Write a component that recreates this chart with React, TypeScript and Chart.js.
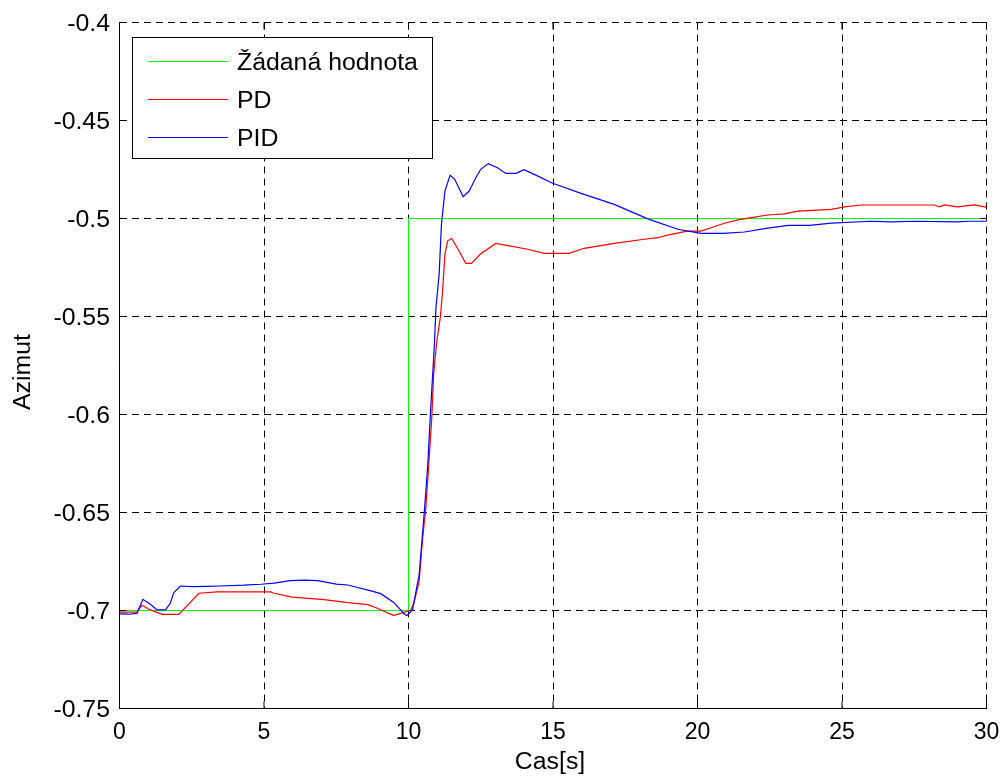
import React, { useEffect, useRef } from "react";
import { Chart, registerables } from "chart.js";

Chart.register(...registerables);

// ---- Data ----
const setpointTime = [0, 10, 10, 30];
const setpointValues = [-0.7, -0.7, -0.5, -0.5];

const pdTime = [0, 0.6, 0.78, 1.07, 1.48, 2.05, 2.75, 3.38, 5.23, 5.35, 5.98, 7.08, 7.9, 8.6, 8.9, 9.39, 9.5, 9.9, 10.08, 10.19, 10.37, 10.48, 10.6, 10.71, 10.8, 10.87, 10.98, 11.1, 11.18, 11.26, 11.35, 11.49, 11.75, 11.98, 12.18, 12.5, 13.02, 13.49, 14.12, 14.7, 15.56, 16.08, 17.12, 18.16, 18.62, 19.08, 19.66, 20.12, 20.47, 20.93, 21.4, 21.86, 22.43, 23.01, 23.48, 24.63, 25.09, 25.67, 28.2, 28.37, 28.55, 29.0, 29.58, 29.93, 30];
const pdValues = [-0.7008, -0.7008, -0.6973, -0.6997, -0.702, -0.702, -0.6912, -0.6905, -0.6905, -0.6912, -0.6932, -0.6945, -0.696, -0.697, -0.6987, -0.702, -0.7025, -0.7007, -0.6998, -0.696, -0.685, -0.6646, -0.6476, -0.6238, -0.6033, -0.5795, -0.5625, -0.5506, -0.537, -0.5183, -0.5115, -0.5101, -0.5166, -0.5229, -0.5229, -0.518, -0.5127, -0.514, -0.5157, -0.5178, -0.5178, -0.5152, -0.5127, -0.5106, -0.5098, -0.5081, -0.5064, -0.5064, -0.5047, -0.5024, -0.5007, -0.4996, -0.4982, -0.4976, -0.4962, -0.4953, -0.4941, -0.4931, -0.4931, -0.4941, -0.4931, -0.4941, -0.4931, -0.4941, -0.4941];

const pidTime = [0, 0.3, 0.6, 0.81, 1.07, 1.3, 1.59, 1.75, 1.88, 2.11, 2.5, 3.04, 3.5, 4.3, 4.9, 5.35, 5.9, 6.4, 6.86, 7.5, 7.9, 8.7, 9.04, 9.5, 9.84, 9.94, 10.14, 10.37, 10.54, 10.66, 10.77, 10.89, 10.95, 11.06, 11.14, 11.26, 11.44, 11.6, 11.89, 12.1, 12.33, 12.5, 12.76, 13.08, 13.37, 13.72, 14.0, 14.35, 14.99, 15.97, 17.12, 18.28, 19.32, 20.12, 20.9, 21.62, 22.32, 23.13, 23.88, 24.63, 26.0, 26.7, 27.5, 29.0, 29.36, 30];
const pidValues = [-0.7017, -0.7019, -0.7015, -0.6943, -0.6968, -0.6997, -0.6997, -0.6965, -0.6909, -0.6875, -0.6878, -0.6877, -0.6875, -0.6871, -0.6866, -0.686, -0.6848, -0.6845, -0.6848, -0.6865, -0.687, -0.69, -0.6914, -0.696, -0.7015, -0.7027, -0.6997, -0.6816, -0.651, -0.6272, -0.5965, -0.566, -0.5455, -0.5285, -0.503, -0.486, -0.478, -0.48, -0.4889, -0.486, -0.4792, -0.4749, -0.472, -0.4741, -0.477, -0.477, -0.4751, -0.4775, -0.482, -0.4872, -0.4928, -0.5002, -0.5055, -0.5076, -0.5076, -0.5069, -0.5052, -0.5035, -0.5035, -0.5024, -0.5014, -0.5017, -0.5014, -0.5017, -0.5014, -0.5014];

const seriesLabels = ["Žádaná hodnota", "PD", "PID"];
const seriesColors = ["#00ff00", "#ff0000", "#0000ff"];
const xTitle = "Cas[s]";
const yTitle = "Azimut";
const xMin = 0, xMax = 30, xStep = 5;
const yMin = -0.75, yMax = -0.4, yStep = 0.05;

const FONT = '"Liberation Sans", Arial, Helvetica, sans-serif';
const FONT_PX = 23;
const STRETCH = 1.08;

const toPoints = (t: number[], v: number[]) => t.map((x, i) => ({ x, y: v[i] }));
const fmt = (v: number) => String(Number(Number(v).toFixed(2)));

function drawText(ctx: any, text: string, x: number, y: number, align: string, sx: number, rot = 0) {
  ctx.save();
  ctx.translate(x, y);
  if (rot) ctx.rotate(rot);
  ctx.scale(sx, 1);
  ctx.textAlign = align;
  ctx.textBaseline = "alphabetic";
  ctx.fillText(text, 0, 0);
  ctx.restore();
}

const matlabPlugin = {
  id: "matlabDecor",
  afterDraw(chart: any) {
    const { ctx, chartArea } = chart;
    const { left, right, top, bottom } = chartArea;
    const xs = chart.scales.x;
    const ys = chart.scales.y;
    ctx.save();
    ctx.strokeStyle = "#000";
    ctx.lineWidth = 1;
    ctx.setLineDash([]);
    // solid left & bottom axes
    ctx.beginPath();
    ctx.moveTo(left, top);
    ctx.lineTo(left, bottom);
    ctx.lineTo(right, bottom);
    ctx.stroke();
    // inward ticks
    const tl = 7;
    ctx.beginPath();
    xs.ticks.forEach((t: any) => {
      const px = xs.getPixelForValue(t.value);
      ctx.moveTo(px, bottom);
      ctx.lineTo(px, bottom - tl);
      ctx.moveTo(px, top);
      ctx.lineTo(px, top + tl);
    });
    ys.ticks.forEach((t: any) => {
      const py = ys.getPixelForValue(t.value);
      ctx.moveTo(left, py);
      ctx.lineTo(left + tl, py);
      ctx.moveTo(right, py);
      ctx.lineTo(right - tl, py);
    });
    ctx.stroke();

    ctx.fillStyle = "#000";
    ctx.font = `${FONT_PX}px ${FONT}`;
    // tick labels
    xs.ticks.forEach((t: any) => {
      drawText(ctx, fmt(t.value), xs.getPixelForValue(t.value), 738.5, "center", 1);
    });
    ys.ticks.forEach((t: any) => {
      drawText(ctx, fmt(t.value), 110, ys.getPixelForValue(t.value) + 8.5, "right", STRETCH);
    });
    // axis titles
    drawText(ctx, xTitle, 550, 768.5, "center", STRETCH);
    drawText(ctx, yTitle, 30, 410, "left", STRETCH, -Math.PI / 2);

    // legend
    const bx = 132.5, by = 37.5, bw = 300, bh = 121;
    ctx.fillStyle = "#fff";
    ctx.fillRect(bx, by, bw, bh);
    ctx.strokeStyle = "#000";
    ctx.strokeRect(bx, by, bw, bh);
    const rows = [61, 99, 137];
    seriesLabels.forEach((lab, i) => {
      ctx.strokeStyle = seriesColors[i];
      ctx.beginPath();
      ctx.moveTo(148, rows[i] + 0.5);
      ctx.lineTo(228, rows[i] + 0.5);
      ctx.stroke();
      ctx.fillStyle = "#000";
      drawText(ctx, lab, 237, rows[i] + 9, "left", STRETCH);
    });
    ctx.restore();
  },
};

export default function App() {
  const canvasRef = useRef<HTMLCanvasElement | null>(null);

  useEffect(() => {
    if (!canvasRef.current) return;
    const chart = new Chart(canvasRef.current, {
      type: "line",
      data: {
        datasets: [
          {
            label: seriesLabels[0],
            data: toPoints(setpointTime, setpointValues),
            borderColor: seriesColors[0],
            borderWidth: 1,
            pointRadius: 0,
            tension: 0,
            order: 3,
          },
          {
            label: seriesLabels[1],
            data: toPoints(pdTime, pdValues),
            borderColor: seriesColors[1],
            borderWidth: 1.2,
            pointRadius: 0,
            tension: 0,
            order: 2,
          },
          {
            label: seriesLabels[2],
            data: toPoints(pidTime, pidValues),
            borderColor: seriesColors[2],
            borderWidth: 1.2,
            pointRadius: 0,
            tension: 0,
            order: 1,
          },
        ],
      },
      options: {
        animation: false,
        responsive: false,
        devicePixelRatio: 1,
        layout: { padding: { left: 0, top: 22.5, right: 18.5, bottom: 0 } },
        plugins: { legend: { display: false }, tooltip: { enabled: false } },
        scales: {
          x: {
            type: "linear",
            min: xMin,
            max: xMax,
            afterFit: (s: any) => {
              s.height = 72.5;
            },
            ticks: { stepSize: xStep, display: false },
            grid: { color: "#000", lineWidth: 1, drawTicks: false },
            border: { display: false, dash: [7, 5] },
          },
          y: {
            type: "linear",
            min: yMin,
            max: yMax,
            afterFit: (s: any) => {
              s.width = 119.5;
            },
            ticks: { stepSize: yStep, display: false },
            grid: { color: "#000", lineWidth: 1, drawTicks: false },
            border: { display: false, dash: [7, 5] },
          },
        },
      },
      plugins: [matlabPlugin],
    } as any);
    return () => chart.destroy();
  }, []);

  return (
    <div style={{ position: "fixed", left: 0, top: 0, width: 1005, height: 781, background: "#fff" }}>
      <canvas ref={canvasRef} width={1005} height={781} style={{ display: "block" }} />
    </div>
  );
}
